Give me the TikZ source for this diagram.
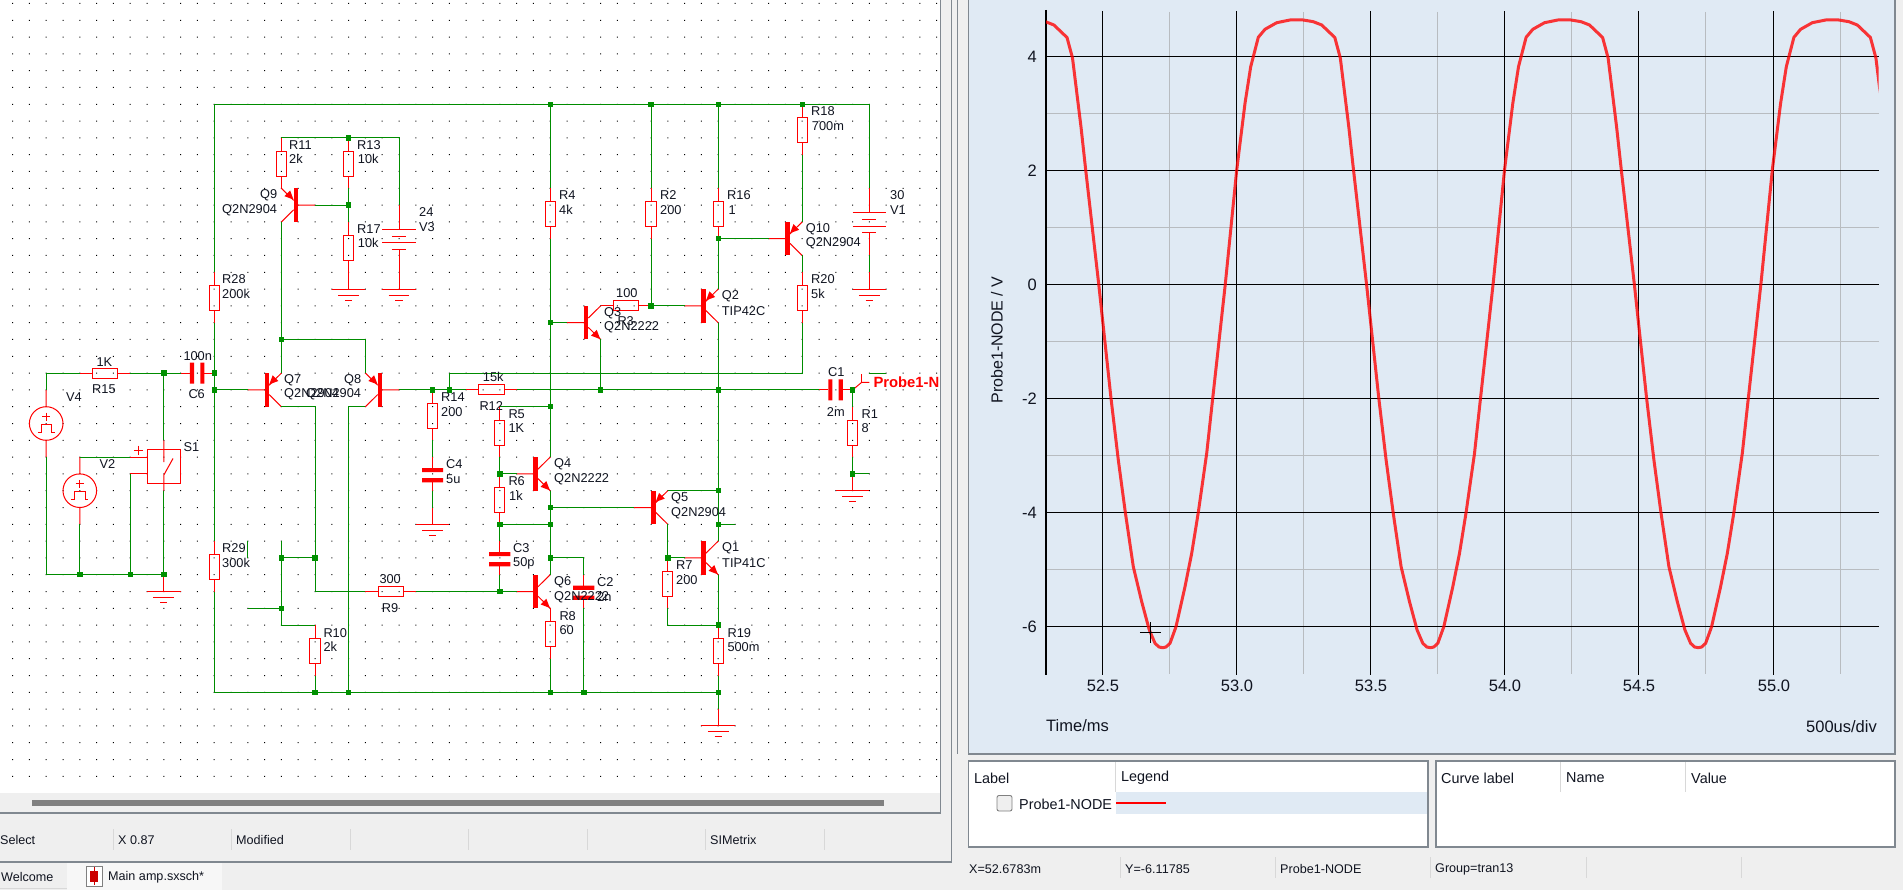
\documentclass[tikz,border=0pt]{standalone}
\usepackage{fontspec}
\setmainfont{Liberation Sans}
\definecolor{wireg}{HTML}{008C00}
\definecolor{junc}{HTML}{009000}
\definecolor{partr}{HTML}{FF0000}
\definecolor{pagebg}{HTML}{EFEFEF}
\definecolor{plotbg}{HTML}{E0EAF4}
\definecolor{frame}{HTML}{808890}
\definecolor{gridg}{HTML}{B8BCC0}
\definecolor{txt}{HTML}{101420}
\definecolor{sepg}{HTML}{D8D8D8}
\tikzset{
  wire/.style={draw=wireg,line width=1pt},
  part/.style={draw=partr,line width=1pt},
  partfill/.style={fill=partr,draw=none},
  jdot/.style={rectangle,fill=junc,draw=none,minimum size=5.4pt,inner sep=0pt},
  lbl/.style={anchor=west,inner sep=0pt,text=txt,font=\fontsize{12.8}{14}\selectfont},
  uitxt/.style={anchor=west,inner sep=0pt,text=txt,font=\fontsize{12.6}{14}\selectfont},
  legtxt/.style={anchor=west,inner sep=0pt,text=txt,font=\fontsize{14.4}{16}\selectfont},
  plottxt/.style={inner sep=0pt,text=txt,font=\fontsize{16.5}{18}\selectfont},
  probetxt/.style={anchor=west,inner sep=0pt,text=partr,font=\bfseries\fontsize{14.8}{16}\selectfont},
  frameline/.style={draw=frame,line width=1.3pt},
  sepline/.style={draw=sepg,line width=.8pt},
  blackgrid/.style={draw=black,line width=.9pt},
  graygrid/.style={draw=gridg,line width=.9pt},
  curve/.style={draw=red,opacity=.78,line width=3pt,line join=round}
}
\newcommand{\vres}[3]{\begin{scope}[shift={(#2,#3)}]
  \coordinate (#1-a) at (0,0); \coordinate (#1-b) at (0,3);
  \draw[part] (0,0) -- (0,.8) (0,2.3) -- (0,3) (-.3,.8) rectangle (.3,2.3);
\end{scope}}
\newcommand{\hres}[3]{\begin{scope}[shift={(#2,#3)}]
  \coordinate (#1-a) at (0,0); \coordinate (#1-b) at (3,0);
  \draw[part] (0,0) -- (.75,0) (2.25,0) -- (3,0) (.75,-.3) rectangle (2.25,.3);
\end{scope}}
\newcommand{\vcapa}[3]{\begin{scope}[shift={(#2,#3)}]
  \coordinate (#1-a) at (0,0); \coordinate (#1-b) at (0,2);
  \draw[part] (0,0) -- (0,.65) (0,1.5) -- (0,2);
  \fill[partfill] (-.63,.65) rectangle (.63,.9) (-.63,1.25) rectangle (.63,1.5);
\end{scope}}
\newcommand{\hcapa}[3]{\begin{scope}[shift={(#2,#3)}]
  \coordinate (#1-a) at (0,0); \coordinate (#1-b) at (2,0);
  \draw[part] (0,0) -- (.55,0) (1.42,0) -- (2,0);
  \fill[partfill] (.55,-.62) rectangle (.8,.62) (1.17,-.62) rectangle (1.42,.62);
\end{scope}}
\newcommand{\gnd}[3]{\begin{scope}[shift={(#2,#3)}]
  \coordinate (#1-p) at (0,-1);
  \draw[part] (0,-1) -- (0,0) (-1,0) -- (1,0) (-.62,.36) -- (.62,.36) (-.22,.66) -- (.22,.66);
\end{scope}}
\newcommand{\batt}[3]{\begin{scope}[shift={(#2,#3)}]
  \coordinate (#1-a) at (0,0); \coordinate (#1-b) at (0,4);
  \draw[part] (0,0) -- (0,1.43) (-1,1.43) -- (1,1.43) (-.42,1.85) -- (.42,1.85)
     (-1,2.25) -- (1,2.25) (-.42,2.65) -- (.42,2.65) (0,2.65) -- (0,4);
\end{scope}}
\newcommand{\psrc}[3]{\begin{scope}[shift={(#2,#3)}]
  \coordinate (#1-a) at (0,0); \coordinate (#1-b) at (0,4);
  \draw[part] (0,0) -- (0,1) (0,3) -- (0,4) (0,2) circle [radius=1];
  \draw[part] (-.25,1.6) -- (.25,1.6) (0,1.35) -- (0,1.85);
  \draw[part] (-.5,2.55) -- (-.3,2.55) -- (-.3,2.03) -- (.32,2.03) -- (.32,2.55) -- (.5,2.55);
\end{scope}}
\newcommand{\bjtbase}[4]{\coordinate (#1-b) at (0,1); \coordinate (#1-t) at (2,0); \coordinate (#1-u) at (2,2);
  \fill[partfill] (1,0) rectangle (1.27,2);
  \draw[part] (0,1) -- (1,1) (1.27,.72) -- (2,0) (1.27,1.28) -- (2,2);}
\newcommand{\npn}[4]{\begin{scope}[shift={(#2,#3)},xscale=#4]
  \bjtbase{#1}{}{}{}
  \fill[partfill] (1.98,1.98) -- (1.77,1.43) -- (1.43,1.77) -- cycle;
\end{scope}}
\newcommand{\pnp}[4]{\begin{scope}[shift={(#2,#3)},xscale=#4]
  \bjtbase{#1}{}{}{}
  \fill[partfill] (1.28,.67) -- (1.48,.13) -- (1.82,.47) -- cycle;
\end{scope}}
\begin{document}
\begin{tikzpicture}[x=1pt,y=-1pt]
\useasboundingbox (0,0) rectangle (1903,890);
\fill[pagebg] (0,0) rectangle (1903,890);
% ---- schematic canvas
\fill[white] (0,0) rectangle (940,793);
\fill[black] \foreach \c in {0,...,55}{\foreach \r in {-5,...,41}{
  (12.6+16.8*\c-.5,87.5+16.8*\r-.5) rectangle +(1,1)}};
\fill[gray] (32,800) rectangle (884,806);
\draw[frameline] (940.3,-1) -- (940.3,813) -- (-1,813);
\draw[frameline] (-1,862) -- (951.7,862) -- (951.7,-1);
\draw[frameline] (957.3,-1) -- (957.3,754);
% ---- schematic
\begin{scope}[shift={(12.6,87.5)},x=16.8pt,y=-16.8pt]
\foreach \c in {0,...,55}{\foreach \r in {0,...,42}{\coordinate (G\c-\r) at (\c,\r);}}
% resistors
\vres{R11}{16}{3} \vres{R13}{20}{3} \vres{R17}{20}{8} \vres{R28}{12}{11} \vres{R29}{12}{27}
\vres{R10}{18}{32} \vres{R14}{25}{18} \vres{R4}{32}{6} \vres{R2}{38}{6} \vres{R16}{42}{6}
\vres{R18}{47}{1} \vres{R20}{47}{11} \vres{R5}{29}{19} \vres{R6}{29}{23} \vres{R8}{32}{31}
\vres{R7}{39}{28} \vres{R19}{42}{32} \vres{R1}{50}{19}
\hres{R15}{4}{17} \hres{R12}{27}{18} \hres{R3}{35}{13} \hres{R9}{21}{30}
% capacitors
\hcapa{C6}{10}{17} \hcapa{C1}{48}{18} \vcapa{C4}{25}{22} \vcapa{C3}{29}{27} \vcapa{C2}{34}{29}
% grounds
\gnd{GA}{20}{12} \gnd{GB}{23}{12} \gnd{GC}{51}{12} \gnd{GD}{25}{26} \gnd{GE}{9}{30}
\gnd{GF}{50}{24} \gnd{GH}{42}{38}
% batteries and sources
\batt{V3}{23}{7} \batt{V1}{51}{6}
\psrc{V4}{2}{18} \psrc{V2}{4}{22}
% switch
\coordinate (S1-a) at (9,21); \coordinate (S1-b) at (9,24);
\coordinate (S1-p) at (7,22); \coordinate (S1-n) at (7,23);
\draw[part] (8,21.55) rectangle (10,23.56);
\draw[part] (S1-p) -- (8,22) (S1-n) -- (8,23);
\draw[part] (S1-a) -- (9,22.3) (S1-b) -- (9,23.07) -- (9.55,22.08);
\draw[part] (7.22,21.6) -- (7.78,21.6) (7.5,21.32) -- (7.5,21.88);
% transistors
\pnp{Q9}{18}{6}{-1} \pnp{Q7}{14}{17}{1} \pnp{Q8}{23}{17}{-1} \pnp{Q10}{45}{8}{1}
\pnp{Q2}{40}{12}{1} \pnp{Q5}{37}{24}{1}
\npn{Q3}{33}{13}{1} \npn{Q4}{30}{22}{1} \npn{Q6}{30}{29}{1} \npn{Q1}{40}{27}{1}
% wires
\draw[wire] (R28-a) -- (G12-1) -- (G51-1) -- (V1-a);
\draw[wire] (R28-b) -- (R29-a);
\draw[wire] (R29-b) -- (G12-36) -- (G42-36);
\draw[wire] (G32-1) -- (R4-a);
\draw[wire] (G38-1) -- (R2-a);
\draw[wire] (G42-1) -- (R16-a);
\draw[wire] (V1-b) -- (GC-p);
\draw[wire] (R11-a) -- (G23-3) -- (V3-a);
\draw[wire] (R13-b) -- (R17-a);
\draw[wire] (Q9-b) -- (G20-7);
\draw[wire] (Q9-u) -- (Q7-t);
\draw[wire] (G16-15) -- (G21-15) -- (Q8-t);
\draw[wire] (Q7-b) -- (G12-18);
\draw[wire] (Q8-b) -- (R12-a);
\draw[wire] (R14-b) -- (C4-a);
\draw[wire] (C4-b) -- (GD-p);
\draw[wire] (G26-18) -- (G26-17) -- (G47-17) -- (R20-b);
\draw[wire] (Q10-u) -- (R20-a);
\draw[wire] (Q10-t) -- (R18-b);
\draw[wire] (Q10-b) -- (G42-9);
\draw[wire] (R16-b) -- (Q2-t);
\draw[wire] (Q2-b) -- (R3-b);
\draw[wire] (R2-b) -- (R3-b);
\draw[wire] (Q3-b) -- (G32-14);
\draw[wire] (R4-b) -- (Q4-t);
\draw[wire] (Q3-u) -- (G35-18);
\draw[wire] (R12-b) -- (C1-a);
\draw[wire] (Q2-u) -- (Q1-t);
\draw[wire] (G29-19) -- (G32-19);
\draw[wire] (R5-b) -- (R6-a);
\draw[wire] (Q4-b) -- (R6-a);
\draw[wire] (Q4-u) -- (Q6-t);
\draw[wire] (G32-25) -- (Q5-b);
\draw[wire] (R6-b) -- (G32-26);
\draw[wire] (R6-b) -- (C3-a);
\draw[wire] (C3-b) -- (G29-30);
\draw[wire] (R9-b) -- (Q6-b);
\draw[wire] (G32-28) -- (G34-28) -- (C2-a);
\draw[wire] (C2-b) -- (G34-36);
\draw[wire] (R8-b) -- (G32-36);
\draw[wire] (Q5-t) -- (G42-24);
\draw[wire] (Q5-u) -- (R7-a);
\draw[wire] (G39-28) -- (Q1-b);
\draw[wire] (R7-b) -- (G39-32) -- (G42-32);
\draw[wire] (Q1-u) -- (R19-a);
\draw[wire] (R19-b) -- (GH-p);
\draw[wire] (G42-26) -- (G43-26);
\draw[wire] (G50-18) -- (R1-a);
\draw[wire] (R1-b) -- (GF-p);
\draw[wire] (G50-23) -- (G51-23);
\draw[wire] (Q7-u) -- (G18-19) -- (G18-30) -- (R9-a);
\draw[wire] (G18-28) -- (G16-28);
\draw[wire] (G16-27) -- (G16-32) -- (R10-a);
\draw[wire] (R10-b) -- (G18-36);
\draw[wire] (G14-27) -- (G14-28);
\draw[wire] (G14-31) -- (G16-31);
\draw[wire] (Q8-u) -- (G20-19) -- (G20-36);
\draw[wire] (V4-a) -- (G2-17) -- (R15-a);
\draw[wire] (R15-b) -- (C6-a);
\draw[wire] (G9-17) -- (S1-a);
\draw[wire] (V4-b) -- (G2-29) -- (G9-29);
\draw[wire] (V2-a) -- (S1-p);
\draw[wire] (V2-b) -- (G4-29);
\draw[wire] (S1-n) -- (G7-29);
\draw[wire] (S1-b) -- (GE-p);
\draw[wire] (G51-17) -- (G52-17);
% probe
\coordinate (PrA) at (50.54,17.55);
\draw[part] (C1-b) -- (PrA) -- (51,17.55);
\draw[part] (PrA) -- (50.54,17.05);
% junctions
\foreach \c/\r in {12/17,12/18,9/17,32/1,38/1,42/1,47/1,20/3,20/7,16/15,26/18,25/18,35/18,42/18,50/18,
  38/13,42/9,32/14,32/19,29/23,32/25,32/26,29/26,32/28,29/30,39/28,42/32,42/24,42/26,50/23,
  4/29,7/29,9/29,16/28,18/28,16/31,18/36,20/36,32/36,34/36,42/36}
  {\node[jdot] (J\c-\r) at (G\c-\r) {};}
\end{scope}
% schematic labels
\node[lbl] (tR11) at (289,145.3) {R11};
\node[lbl] (vR11) at (289,159.3) {2k};
\node[lbl] (tR13) at (357,145.3) {R13};
\node[lbl] (vR13) at (357.7,159.3) {10k};
\node[lbl] (tQ9) at (260,195) {Q9};
\node[lbl] (vQ9) at (222,210) {Q2N2904};
\node[lbl] (tR17) at (357,229.3) {R17};
\node[lbl] (vR17) at (357.7,243.3) {10k};
\node[lbl] (vV3) at (419,212.3) {24};
\node[lbl] (tV3) at (419,227) {V3};
\node[lbl] (tR28) at (222,279.3) {R28};
\node[lbl] (vR28) at (222,294.3) {200k};
\node[lbl] (vR15) at (96.3,361.7) {1K};
\node[lbl] (tR15) at (92,389.3) {R15};
\node[lbl] (vC6) at (183.3,356) {100n};
\node[lbl] (tC6) at (188.3,394) {C6};
\node[lbl] (tQ7) at (284,380) {Q7};
\node[lbl] (vQ7) at (284,394) {Q2N2904};
\node[lbl] (tQ8) at (344,380) {Q8};
\node[lbl] (vQ8) at (306,394) {Q2N2904};
\node[lbl] (tV4) at (66,397.3) {V4};
\node[lbl] (tV2) at (99.3,464) {V2};
\node[lbl] (tS1) at (183.3,447.3) {S1};
\node[lbl] (tR29) at (222,548.3) {R29};
\node[lbl] (vR29) at (222,563.3) {300k};
\node[lbl] (tR14) at (441,397.3) {R14};
\node[lbl] (vR14) at (441,412.3) {200};
\node[lbl] (tC4) at (446,464.3) {C4};
\node[lbl] (vC4) at (446,479.3) {5u};
\node[lbl] (vR9) at (379.3,579) {300};
\node[lbl] (tR9) at (381.7,608.3) {R9};
\node[lbl] (tR10) at (323.3,633.3) {R10};
\node[lbl] (vR10) at (323.3,647.3) {2k};
\node[lbl] (tR18) at (811,111.3) {R18};
\node[lbl] (vR18) at (811.7,126) {700m};
\node[lbl] (tR4) at (559,195) {R4};
\node[lbl] (vR4) at (559,210) {4k};
\node[lbl] (tR2) at (660,195) {R2};
\node[lbl] (vR2) at (660,210) {200};
\node[lbl] (tR16) at (727,195) {R16};
\node[lbl] (vR16) at (728.3,210) {1};
\node[lbl] (vV1) at (890,195) {30};
\node[lbl] (tV1) at (890,210) {V1};
\node[lbl] (tQ10) at (805.7,229) {Q10};
\node[lbl] (vQ10) at (805.7,243.3) {Q2N2904};
\node[lbl] (tR20) at (811,279.3) {R20};
\node[lbl] (vR20) at (811,294) {5k};
\node[lbl] (vR3) at (616,293.3) {100};
\node[lbl] (tQ2) at (721.7,296) {Q2};
\node[lbl] (vQ2) at (721.7,310.7) {TIP42C};
\node[lbl] (tQ3) at (604,313.3) {Q3};
\node[lbl] (tR3) at (617.3,320.7) {R3};
\node[lbl] (vQ3) at (604,327.3) {Q2N2222};
\node[lbl] (vR12) at (482.7,377.3) {15k};
\node[lbl] (tC1) at (828,372.3) {C1};
\node[probetxt] (tProbe) at (873.3,382) {Probe1-N};
\node[lbl] (tR12) at (479.3,406) {R12};
\node[lbl] (tR5) at (508.3,414) {R5};
\node[lbl] (vR5) at (508.3,428.3) {1K};
\node[lbl] (tR6) at (508.3,481) {R6};
\node[lbl] (vR6) at (509,496.3) {1k};
\node[lbl] (tQ4) at (554,464) {Q4};
\node[lbl] (vQ4) at (554,479) {Q2N2222};
\node[lbl] (tC3) at (513,548) {C3};
\node[lbl] (vC3) at (513,563.3) {50p};
\node[lbl] (tQ6) at (554,582) {Q6};
\node[lbl] (vQ6) at (554,597.3) {Q2N2222};
\node[lbl] (tC2) at (597,582) {C2};
\node[lbl] (vC2) at (597,597.3) {2n};
\node[lbl] (tR8) at (559.3,616) {R8};
\node[lbl] (vR8) at (559.3,630) {60};
\node[lbl] (tR7) at (676,565) {R7};
\node[lbl] (vR7) at (676,580) {200};
\node[lbl] (tR19) at (727.3,633.3) {R19};
\node[lbl] (vR19) at (727.3,647.3) {500m};
\node[lbl] (tQ5) at (671,498.3) {Q5};
\node[lbl] (vQ5) at (671,513.3) {Q2N2904};
\node[lbl] (tQ1) at (722,548) {Q1};
\node[lbl] (vQ1) at (722,563) {TIP41C};
\node[lbl] (tR1) at (861.3,414) {R1};
\node[lbl] (vR1) at (861.3,428.3) {8};
\node[lbl] (vC1) at (826.7,411.7) {2m};
% ---- left status bar and tabs
\foreach \x in {113,231,350,468,587,705,824}{\draw[sepline] (\x,829) -- (\x,850);}
\node[uitxt] (sSel) at (0,840) {Select};
\node[uitxt] (sX) at (118,840) {X 0.87};
\node[uitxt] (sMod) at (236,840) {Modified};
\node[uitxt] (sSim) at (710,840) {SIMetrix};
\fill[white!97!black] (67,863) rectangle (222,890);
\draw[sepline] (0,888) -- (67,888);
\node[uitxt] (tabW) at (1,877) {Welcome};
\node[uitxt] (tabM) at (108,877) {Main amp.sxsch*};
\draw[draw=gray,fill=white,line width=.7pt] (86,866) rectangle (102,886);
\fill[partr!80!black] (90,871) rectangle (98,882);
\draw[partr!80!black,line width=1pt] (94,867) -- (94,885);
% ---- plot
\draw[frameline,fill=plotbg] (968.3,-2) rectangle (1895,754);
\foreach \y in {113.3,227.3,341.3,455.3,569.3}{\draw[graygrid] (1046,\y) -- (1879,\y);}
\foreach \x in {1169.3,1303.3,1437.3,1571.3,1705.3,1840.3}{\draw[graygrid] (\x,12) -- (\x,674);}
\foreach \y in {56.3,170.3,284.3,398.3,512.3,626.3}{\draw[blackgrid] (1046,\y) -- (1879,\y);}
\foreach \x in {1102.7,1236.4,1370.3,1504.3,1638.3,1773.3}{\draw[blackgrid] (\x,11) -- (\x,675);}
\draw[black,line width=2pt] (1046,10) -- (1046,675);
\begin{scope}
\clip (1046,0) rectangle (1878.5,700);
\foreach \s in {0,267.8,535.6,803.4}{
\draw[curve,shift={(\s,0)}] plot coordinates {(1035.5,20) (1045.5,21.7) (1053.9,25) (1067,37.5) (1072.5,58)
 (1081,127) (1085.7,170) (1098.7,284) (1111,398.3) (1118.3,460) (1125.3,512.3) (1133.3,566.7) (1141.7,601.7)
 (1149.3,630) (1155,643.3) (1159,647) (1162.7,647.7) (1166,647) (1170,643.3) (1176,626.7) (1185,586.7) (1191.7,553.3) (1198.3,512.3)
 (1206.7,453.3) (1212.7,398.3) (1225.3,284) (1236.7,170) (1245,103.3) (1250.7,66.7) (1258.3,37.3)
 (1265,29.3) (1276.7,22.7) (1290,20) (1303.3,20)};}
\end{scope}
\draw[black,line width=.9pt] (1139.8,632.3) -- (1160.8,632.3) (1150.3,622) -- (1150.3,643);
% plot text
\foreach \v/\y in {4/56.3,2/170.3,0/284.3,-2/398.3,-4/512.3,-6/626.3}
  {\node[plottxt,anchor=east] (ty\y) at (1037,\y+.5) {\v};}
\foreach \v/\x in {52.5/1103,53.0/1237,53.5/1371,54.0/1505,54.5/1639,55.0/1774}
  {\node[plottxt] (tx\x) at (\x,685.5) {\v};}
\node[plottxt,rotate=90,font=\fontsize{16}{18}\selectfont] (yTitle) at (997,340) {Probe1-NODE / V};
\node[plottxt,anchor=west] (xTitle) at (1046,726) {Time/ms};
\node[plottxt,anchor=east] (xDiv) at (1877,727) {500us/div};
% ---- legend boxes
\draw[frameline,fill=white] (968.3,761) rectangle (1428,847);
\draw[frameline,fill=white] (1436,761) rectangle (1895,847);
\fill[plotbg] (1116,792) rectangle (1427.3,814);
\draw[sepline] (1115,762) -- (1115,792);
\draw[sepline] (1560,762) -- (1560,792);
\draw[sepline] (1685,762) -- (1685,792);
\node[legtxt] (hLabel) at (974,778) {Label};
\node[legtxt] (hLegend) at (1121,778) {Legend};
\node[legtxt] (hCurve) at (1441,778) {Curve label};
\node[legtxt] (hName) at (1566,778) {Name};
\node[legtxt] (hValue) at (1691,778) {Value};
\draw[draw=gray,fill=pagebg,rounded corners=2pt,line width=.9pt] (997,795.5) rectangle (1012,811);
\node[legtxt] (rowProbe) at (1019,804) {Probe1-NODE};
\draw[draw=red,line width=2.3pt] (1116,803) -- (1166,803);
% ---- right status bar
\foreach \x in {1120,1275,1430,1586,1741}{\draw[sepline] (\x,857) -- (\x,878);}
\node[uitxt] (rX) at (969,869) {X=52.6783m};
\node[uitxt] (rY) at (1125,869) {Y=-6.11785};
\node[uitxt] (rP) at (1280,869) {Probe1-NODE};
\node[uitxt] (rG) at (1435,869) {Group=tran13};
\end{tikzpicture}
\end{document}
